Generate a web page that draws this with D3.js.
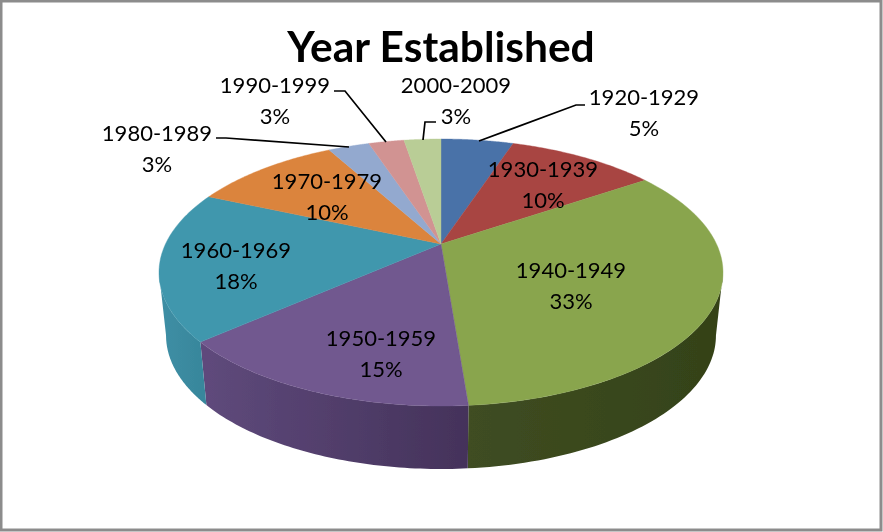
<!DOCTYPE html>
<html><head><meta charset="utf-8">
<script src="https://cdn.jsdelivr.net/npm/d3@7"></script>
<style>html,body{margin:0;padding:0;background:#fff}svg{display:block}text{font-family:Lato,"Noto Sans",sans-serif;fill:#000}</style>
</head><body><svg id="c" width="883" height="532"></svg>
<script>
const categories=["1920-1929","1930-1939","1940-1949","1950-1959","1960-1969","1970-1979","1980-1989","1990-1999","2000-2009"];
const values=[5.1,10.45,33.2,14.75,18.1,10.4,2.9,2.5,2.6];
const topColors=["#4a72a8","#a84442","#89a54e","#71588f","#4197ad","#db843d","#93a9cf","#d19392","#b9cd96"];
const wallLeft=["#2c4468","#682a28","#3f4d22","#5f4a7c","#3f8fa5","#8a5024","#5c6a82","#835c5b","#74805e"];
const wallRight=["#2c4468","#682a28","#344218","#44325a","#38879c","#8a5024","#5c6a82","#835c5b","#74805e"];
const title="Year Established";
const labelX=[644,543,571,381,236,327,157,275,456];
const labelY=[97,169,270,338,250,181,133,85,85];
const leaders=[[[479,141],[576,105],[585,105]],[[349,147],[226,138],[216,138]],[[386,142],[345,91],[334,91]],[[423,140],[425,122],[436,122]]];

const W=883,H=532,cx=441,cy=244,R=275.5,Ry=127.4,b=0.2135,depth=63,shrink=0.975;
const svg=d3.select("#c");
const defs=svg.append("defs");
defs.append("filter").attr("id","soft").append("feGaussianBlur").attr("stdDeviation",0.45);
const pie=d3.pie().value(d=>d).sort(null)(values);
const proj=t=>{const s=1/(1+b*Math.cos(t));return [cx+R*Math.sin(t)*s,cy-Ry*Math.cos(t)*s];};
const projB=t=>{const p=proj(t);return [cx+(p[0]-cx)*shrink,p[1]+depth];};
const arcPts=(a0,a1,f)=>d3.range(0,61).map(i=>f(a0+(a1-a0)*i/60));
const line=d3.line();

svg.append("rect").attr("x",1).attr("y",1).attr("width",W-3).attr("height",H-3)
  .attr("fill","#fff").attr("stroke","#8c8c8c").attr("stroke-width",3);

const art=svg.append("g").attr("filter","url(#soft)");
// side walls: the silhouette's widest point on each side is the limit of what is visible
const visStart=Math.acos(-b), visEnd=2*Math.PI-visStart;
pie.forEach((d,i)=>{
  const a0=Math.max(d.startAngle,visStart),a1=Math.min(d.endAngle,visEnd);
  if(a1<=a0)return;
  const id="w"+i,xa=proj(a0)[0],xb=proj(a1)[0];
  const g=defs.append("linearGradient").attr("id",id).attr("gradientUnits","userSpaceOnUse")
    .attr("x1",Math.min(xa,xb)).attr("x2",Math.max(xa,xb)).attr("y1",0).attr("y2",0);
  g.append("stop").attr("offset",0).attr("stop-color",wallLeft[i]);
  g.append("stop").attr("offset",1).attr("stop-color",wallRight[i]);
  const pts=arcPts(a0,a1,proj).concat(arcPts(a0,a1,projB).reverse());
  art.append("path").attr("d",line(pts)+"Z").attr("fill",`url(#${id})`);
});
// top face
pie.forEach((d,i)=>{
  const pts=[[cx,cy]].concat(arcPts(d.startAngle,d.endAngle,proj));
  art.append("path").attr("d",line(pts)+"Z").attr("fill",topColors[i]).attr("stroke",topColors[i]).attr("stroke-width",0.4);
});
// leaders
leaders.forEach(l=>art.append("path").attr("d",line(l)).attr("fill","none").attr("stroke","#000").attr("stroke-width",1.7));
// labels
categories.forEach((c,i)=>{
  art.append("text").attr("x",labelX[i]).attr("y",labelY[i]+8).attr("text-anchor","middle").attr("font-size",22).text(c);
  art.append("text").attr("x",labelX[i]).attr("y",labelY[i]+39).attr("text-anchor","middle").attr("font-size",22).text(Math.round(values[i])+"%");
});
art.append("text").attr("x",441).attr("y",62).attr("text-anchor","middle").attr("font-size",42.5).attr("font-weight",700).text(title);
</script></body></html>
